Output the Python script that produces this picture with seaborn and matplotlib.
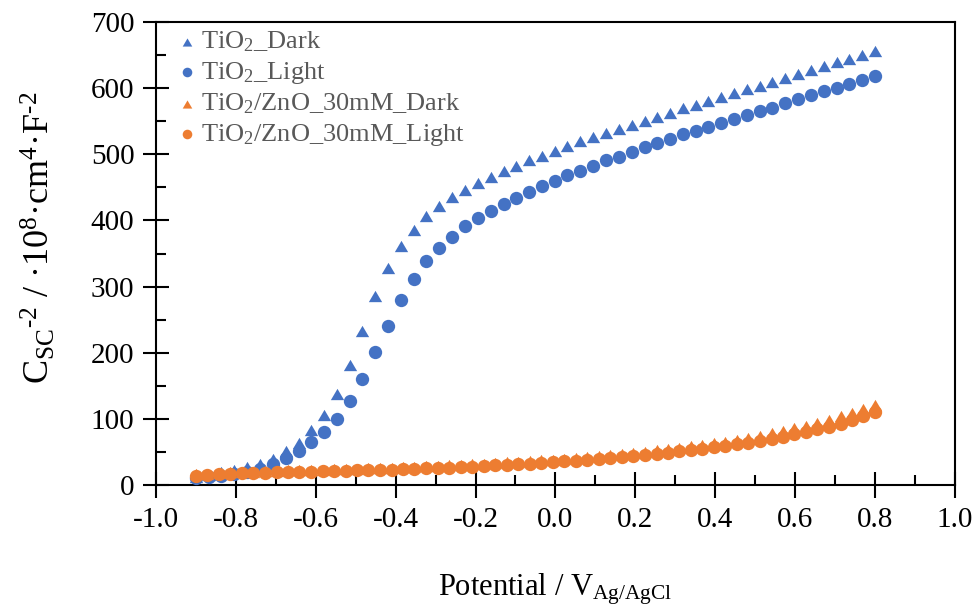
import numpy as np
import pandas as pd
import matplotlib
matplotlib.use("Agg")
import matplotlib.pyplot as plt
import seaborn as sns
from matplotlib.ticker import MultipleLocator

# ---- data ----
tio2_x = [-0.900, -0.868, -0.836, -0.804, -0.772, -0.740, -0.708, -0.675, -0.643, -0.611,
          -0.579, -0.547, -0.515, -0.483, -0.451, -0.419, -0.387, -0.355, -0.323, -0.291,
          -0.258, -0.226, -0.194, -0.162, -0.130, -0.098, -0.066, -0.034, -0.002, 0.030,
          0.062, 0.094, 0.126, 0.158, 0.191, 0.223, 0.255, 0.287, 0.319, 0.351,
          0.383, 0.415, 0.447, 0.479, 0.511, 0.543, 0.575, 0.608, 0.640, 0.672,
          0.704, 0.736, 0.768, 0.800]
tio2_dark = [12.5, 15.5, 19, 23, 27, 32, 39, 51, 64, 83,
             106, 138, 182, 233, 286, 328, 362, 386, 406, 422,
             436, 446, 456, 466, 475, 482, 491, 497, 505, 513,
             520, 526, 532, 538, 544, 551, 557, 563, 570, 575,
             581, 587, 593, 599, 604, 610, 616, 622, 628, 633,
             639, 644, 650, 656]
tio2_light = [10.5, 12, 14, 16.5, 19, 24, 32, 41, 52, 64.5,
              80, 100, 127, 160, 201, 241, 279, 311, 338, 358,
              375, 391, 404, 415, 425, 434, 443, 452, 460, 468,
              475, 482, 491, 496, 504, 511, 517, 523, 530, 535,
              542, 548, 554, 559, 565, 570, 577, 584, 590, 595,
              601, 607, 613, 619]

zno_x = [-0.900, -0.871, -0.842, -0.814, -0.785, -0.756, -0.727, -0.698, -0.669, -0.641,
         -0.612, -0.583, -0.554, -0.525, -0.497, -0.468, -0.439, -0.410, -0.381, -0.353,
         -0.324, -0.295, -0.266, -0.237, -0.208, -0.180, -0.151, -0.122, -0.093, -0.064,
         -0.036, -0.007, 0.022, 0.051, 0.080, 0.108, 0.137, 0.166, 0.195, 0.224,
         0.253, 0.281, 0.310, 0.339, 0.368, 0.397, 0.425, 0.454, 0.483, 0.512,
         0.541, 0.569, 0.598, 0.627, 0.656, 0.685, 0.714, 0.742, 0.771, 0.800]
zno_light = [14, 15, 16, 16.8, 17.5, 18, 18.6, 19, 19.5, 20,
             20.4, 20.8, 21.2, 21.6, 22, 22.4, 22.9, 23.4, 24, 24.5,
             25.1, 25.7, 26.4, 27.1, 27.9, 28.9, 29.7, 30.6, 31.5, 32.5,
             33.5, 34.6, 35.7, 36.9, 38.1, 39.4, 40.8, 42.2, 43.7, 45.3,
             47, 49, 51, 53, 55, 57, 59, 61.5, 64, 67,
             70, 73, 76.5, 80, 84, 88, 93, 98, 104, 110]
zno_dark = [16, 17, 18, 19, 19.7, 20.3, 21, 21.5, 22, 22.5,
            23, 23.4, 23.8, 24.3, 24.7, 25.2, 25.7, 26.3, 26.9, 27.5,
            28.2, 28.9, 29.6, 30.4, 31.2, 32.2, 33.1, 34.1, 35.1, 36.2,
            37.3, 38.5, 39.7, 41, 42.3, 43.7, 45.2, 46.8, 48.5, 50.3,
            52.2, 54.3, 56.4, 58.6, 60.9, 63.2, 65.6, 68.5, 71.4, 74.8,
            78.3, 81.7, 85.6, 89.6, 94.2, 98.8, 104, 109.5, 115, 121]

labels = ["TiO$_2$_Dark", "TiO$_2$_Light", "TiO$_2$/ZnO_30mM_Dark", "TiO$_2$/ZnO_30mM_Light"]
colors = ["#4472C4", "#4472C4", "#ED7D31", "#ED7D31"]

# ---- style ----
sns.set_style("ticks")
plt.rcParams['font.family'] = ['Liberation Serif', 'DejaVu Serif']
plt.rcParams['mathtext.fontset'] = 'custom'
plt.rcParams['mathtext.rm'] = 'Liberation Serif'
plt.rcParams['mathtext.it'] = 'Liberation Serif:italic'
plt.rcParams['mathtext.bf'] = 'Liberation Serif:bold'

fig = plt.figure(figsize=(9.79, 6.12), dpi=100)
ax = fig.add_axes([0.1593, 0.2075, 0.8161, 0.7565])

tri = [(-1, -0.85), (1, -0.85), (0, 0.85)]
series = [
    (tio2_x, tio2_dark, tri),
    (tio2_x, tio2_light, "o"),
    (zno_x, zno_dark, tri),
    (zno_x, zno_light, "o"),
]
for (xs, ys, mk), lab, col in zip(series, labels, colors):
    df = pd.DataFrame({"V": xs, "C": ys})
    sns.scatterplot(data=df, x="V", y="C", ax=ax, marker=mk, color=col,
                    s=92, linewidth=0, label=lab, zorder=3)

ax.set_xlim(-1.0, 1.0)
ax.set_ylim(0, 700)
ax.xaxis.set_major_locator(MultipleLocator(0.2))
ax.xaxis.set_minor_locator(MultipleLocator(0.1))
ax.yaxis.set_major_locator(MultipleLocator(100))
ax.yaxis.set_minor_locator(MultipleLocator(50))
ax.set_xticklabels([f"{v:.1f}" for v in ax.get_xticks()])

ax.tick_params(which='major', direction='inout', length=19, width=1.5,
               labelsize=21, color='black', labelcolor='black', pad=6)
ax.tick_params(which='minor', direction='in', length=7, width=1.5, color='black')
ax.tick_params(axis='x', which='both', top=False)
ax.tick_params(axis='y', which='both', right=False)
for sp in ax.spines.values():
    sp.set_color('black')
    sp.set_linewidth(1.5)

ax.set_xlabel("Potential / V$_{\\mathrm{Ag/AgCl}}$", fontsize=22, labelpad=28, color='black')
ax.set_ylabel("C$_{\\mathrm{SC}}$$^{\\text{-2}}$ / ·10$^{8}$·cm$^{4}$·F$^{\\text{-2}}$", fontsize=26,
              color='black')
ax.yaxis.set_label_coords(-0.123, 0.535)

ax.legend(loc='upper left', bbox_to_anchor=(0.003, 1.018), frameon=False, fontsize=19,
          labelcolor='#595959', handletextpad=0.0, labelspacing=0.22, borderaxespad=0.2,
          handlelength=1.0, markerscale=0.72)

fig.savefig("out.png", dpi=100)
